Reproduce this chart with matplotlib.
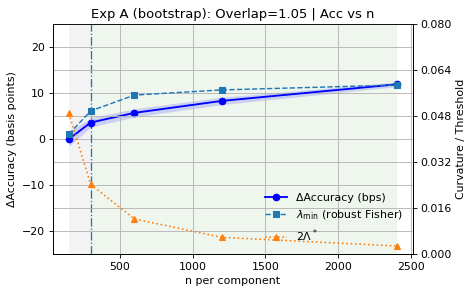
import numpy as np
import matplotlib
matplotlib.use('Agg')
import matplotlib.pyplot as plt

# data
n_acc = [150, 300, 600, 1200, 2400]
acc_bps = [0.0, 3.6, 5.7, 8.3, 11.9]
acc_ci = [1.6, 1.0, 0.9, 0.8, 0.5]

lam_min = [0.0417, 0.0498, 0.0553, 0.0571, 0.0588]
two_lambda_star = [0.0489, 0.0242, 0.0122, 0.0058, 0.0028]

n_min, n_star, n_max = 150, 300, 2400

# figure drawn at a bigger size and lower dpi, like the reference
dpi = 78.83
fig, ax = plt.subplots(figsize=(473 / dpi, 294 / dpi), dpi=dpi)
fig.subplots_adjust(left=0.111, right=0.873, top=0.918, bottom=0.136)

# shaded regimes
ax.axvspan(n_min, n_star, color='gray', alpha=0.09, lw=0)
ax.axvspan(n_star, n_max, color='green', alpha=0.065, lw=0)
ax.axvline(n_star, color='tab:blue', ls='-.', lw=1.2)

acc = np.array(acc_bps)
ci = np.array(acc_ci)
ax.fill_between(n_acc, acc - ci, acc + ci, color='blue', alpha=0.15, lw=0)
l1, = ax.plot(n_acc, acc_bps, 'o-', color='blue', lw=1.7, ms=6,
              label='ΔAccuracy (bps)')
ax.set_ylim(-25, 25)
ax.set_xlabel('n per component')
ax.set_ylabel('ΔAccuracy (basis points)')
ax.set_title('Exp A (bootstrap): Overlap=1.05 | Acc vs n')
ax.grid(True, color='0.7', lw=0.8)

ax2 = ax.twinx()
l2, = ax2.plot(n_acc, lam_min, 's--', color='tab:blue', lw=1.3, ms=6,
               label=r'$\lambda_{\min}$ (robust Fisher)')
l3, = ax2.plot(n_acc, two_lambda_star, '^:', color='tab:orange', lw=1.5, ms=6,
               label='2Λ$^*$')
ax2.set_ylim(0, 0.08)
ax2.set_yticks(np.arange(0, 0.0801, 0.016))
ax2.set_ylabel('Curvature / Threshold')
ax2.grid(True, color='0.7', lw=0.8)

ax2.legend(handles=[l1, l2, l3], loc='lower right', frameon=False)

plt.savefig('out.png', dpi=dpi)
